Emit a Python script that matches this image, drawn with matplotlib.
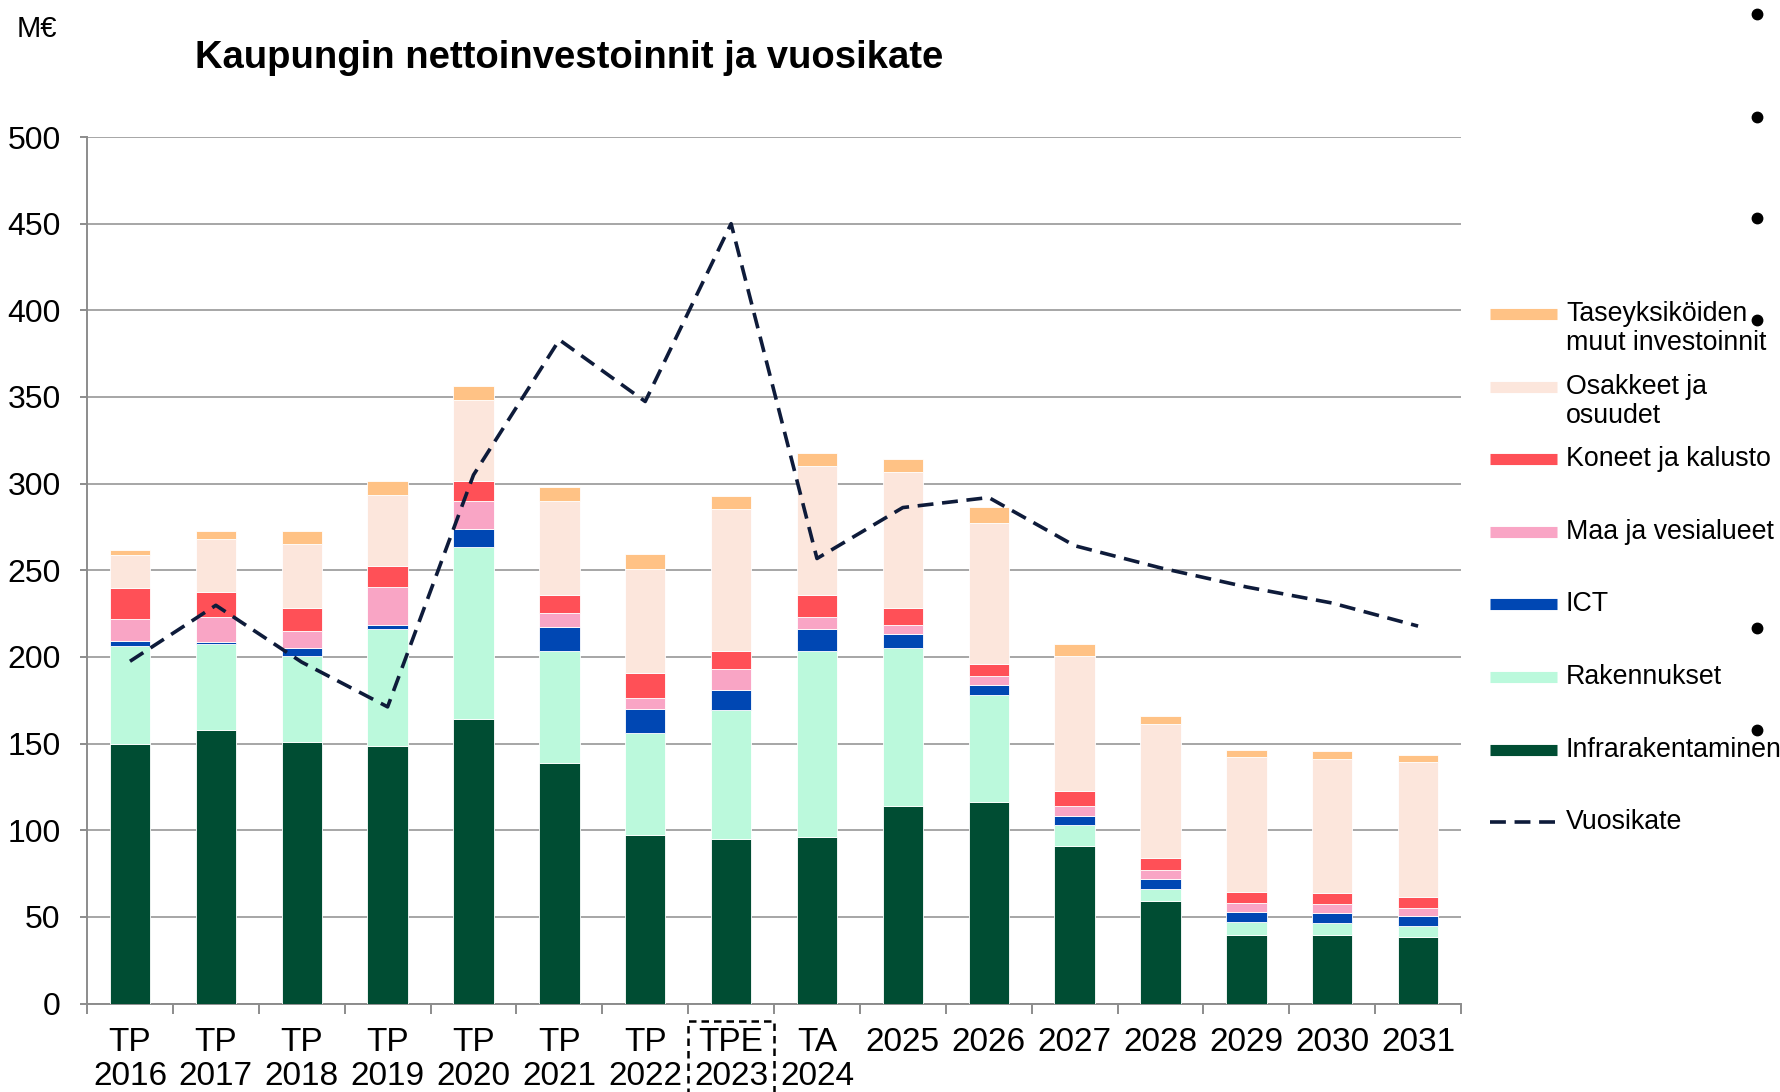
import matplotlib
matplotlib.use("Agg")
import matplotlib.pyplot as plt
import numpy as np
from matplotlib.lines import Line2D
from matplotlib.patches import Rectangle
from matplotlib.transforms import blended_transform_factory

plt.rcParams["font.family"] = ["Liberation Sans", "DejaVu Sans"]

# Data (M€)
categories = ["TP\n2016", "TP\n2017", "TP\n2018", "TP\n2019", "TP\n2020",
              "TP\n2021", "TP\n2022", "TPE\n2023", "TA\n2024", "2025",
              "2026", "2027", "2028", "2029", "2030", "2031"]
infra = [150.0, 157.9, 150.8, 148.7, 164.1, 138.9, 97.0, 95.0, 96.3, 114.0,
         116.5, 90.9, 59.0, 39.8, 39.4, 38.5]
rakennukset = [56.4, 49.5, 49.8, 67.7, 99.3, 64.4, 59.4, 74.4, 106.9, 91.3,
               61.5, 12.1, 7.3, 7.3, 7.1, 6.0]
ict = [2.9, 1.5, 4.4, 2.1, 10.5, 14.0, 13.8, 11.3, 12.8, 8.2,
       5.8, 5.5, 5.8, 6.0, 5.7, 5.9]
maa = [12.5, 14.4, 10.2, 22.0, 16.2, 8.1, 6.0, 12.2, 7.2, 5.1,
       5.0, 5.5, 5.1, 5.1, 5.3, 4.9]
koneet = [18.1, 14.1, 13.3, 11.7, 11.6, 10.2, 14.4, 10.3, 12.3, 9.7,
          7.0, 8.4, 6.6, 5.9, 6.2, 6.4]
osakkeet = [19.2, 30.8, 36.6, 41.0, 46.3, 54.3, 60.4, 82.4, 74.8, 78.5,
            81.6, 78.2, 77.7, 77.9, 77.7, 77.5]
taseyksikot = [2.7, 4.6, 7.3, 8.3, 8.5, 8.4, 8.2, 7.0, 7.6, 7.2,
               9.2, 6.9, 4.7, 4.5, 4.4, 4.4]
vuosikate = [197.5, 229.8, 197.0, 171.2, 305.0, 383.0, 347.4, 450.0, 256.8,
             286.2, 292.0, 264.2, 251.4, 240.4, 231.1, 217.8]

series_names = ["Infrarakentaminen", "Rakennukset", "ICT", "Maa ja vesialueet",
                "Koneet ja kalusto", "Osakkeet ja\nosuudet",
                "Taseyksiköiden\nmuut investoinnit"]
series_values = [infra, rakennukset, ict, maa, koneet, osakkeet, taseyksikot]
series_colors = ["#004D33", "#BBF9DC", "#0047B3", "#F9A5C5", "#FF5057",
                 "#FCE6DC", "#FFC285"]
line_color = "#0E1B3A"

fig = plt.figure(figsize=(17.8, 10.92), dpi=100)
ax = fig.add_axes([0.0489, 0.0810, 0.7719, 0.7935])

x = np.arange(len(categories))
bottom = np.zeros(len(categories))
for vals, color in zip(series_values, series_colors):
    ax.bar(x, vals, width=0.47, bottom=bottom, color=color,
           edgecolor="white", linewidth=0.6, zorder=3)
    bottom += np.array(vals)

ax.plot(x, vuosikate, color=line_color, lw=2.6, dashes=(4.4, 2.4), zorder=4)

ax.set_xlim(-0.5, len(categories) - 0.5)
ax.set_ylim(0, 500)
ax.set_yticks(np.arange(0, 501, 50))
ax.grid(axis="y", color="#A6A6A6", lw=1.4, zorder=0)
for side in ["top", "right"]:
    ax.spines[side].set_visible(False)
for side in ["left", "bottom"]:
    ax.spines[side].set_color("#8C8C8C")
    ax.spines[side].set_linewidth(1.4)

# boundary ticks without labels, labels on the category centres
ax.set_xticks(np.arange(-0.5, len(categories), 1.0))
ax.set_xticklabels([])
ax.set_xticks(x, minor=True)
ax.set_xticklabels(categories, minor=True, fontsize=24, linespacing=1.12)
ax.tick_params(axis="x", which="major", length=7, width=1.4, color="#8C8C8C")
ax.tick_params(axis="x", which="minor", length=0, pad=17)
ax.tick_params(axis="y", length=5, width=1.4, color="#8C8C8C",
               labelsize=23, pad=14)

# dashed box round the TPE 2023 label
trans = blended_transform_factory(ax.transData, ax.transAxes)
ax.add_patch(Rectangle((6.5, -0.125), 1.0, 0.105, transform=trans,
                       fill=False, ec="black", lw=1.8, ls=(0, (3, 2)),
                       clip_on=False))

fig.text(0.0096, 0.966, "M€", fontsize=21, va="baseline")
fig.text(0.1096, 0.9377, "Kaupungin nettoinvestoinnit ja vuosikate",
         fontsize=27.5, fontweight="bold", va="baseline")

# legend, drawn entry by entry (top entry first)
leg_y0 = 1 - 314 / 1092
leg_step = 72.6 / 1092
line_step = 29.5 / 1092
handle_x = (1490 / 1780, 1557 / 1780)
text_x = 1566 / 1780
entries = list(zip(series_names, series_colors))[::-1]
for i, (name, color) in enumerate(entries):
    y = leg_y0 - i * leg_step
    fig.add_artist(Line2D(handle_x, [y, y], transform=fig.transFigure,
                          color=color, lw=8, solid_capstyle="butt"))
    for k, part in enumerate(name.split("\n")):
        fig.text(text_x, y - k * line_step, part, fontsize=19.3, va="center")
y = leg_y0 - len(entries) * leg_step
fig.add_artist(Line2D(handle_x, [y, y], transform=fig.transFigure,
                      color=line_color, lw=2.6, dashes=(4.4, 2.4)))
fig.text(text_x, y, "Vuosikate", fontsize=19.3, va="center")

# stray bullet dots at the right edge of the slide
dot_y = [13.6, 116.9, 217.9, 320.1, 627.7, 729.8]
for yy in dot_y:
    fig.add_artist(Line2D([1757 / 1780], [1 - yy / 1092], marker="o", ms=7.5,
                          color="black", transform=fig.transFigure))

fig.savefig("out.png", dpi=100)
